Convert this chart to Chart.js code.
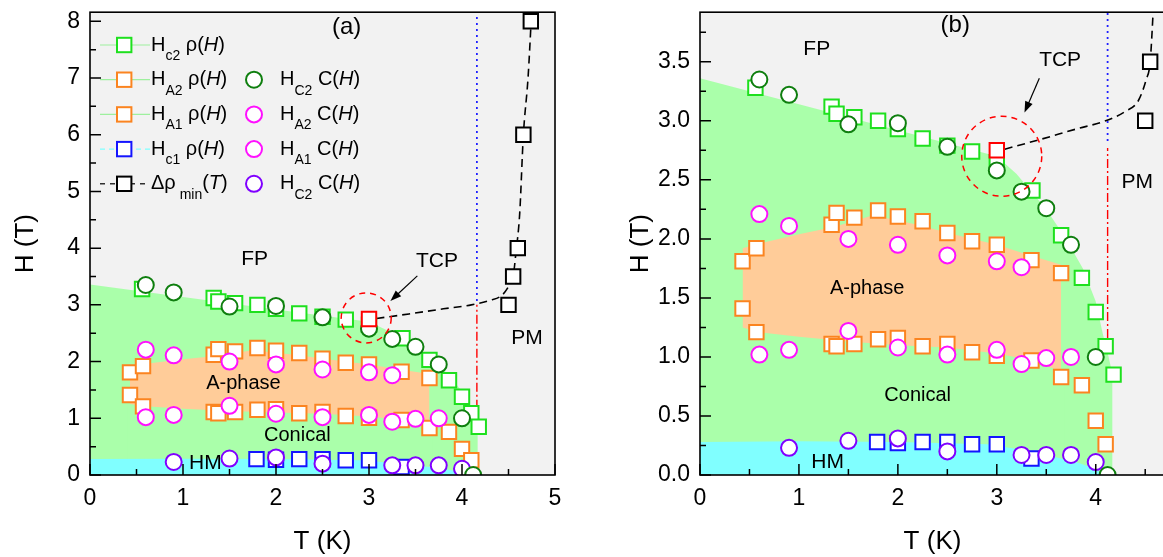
<!DOCTYPE html>
<html>
<head>
<meta charset="utf-8">
<script src="https://cdn.jsdelivr.net/npm/chart.js@4.4.1/dist/chart.umd.min.js"></script>
<style>
  html, body { margin: 0; padding: 0; background: #fff; overflow: hidden; width: 1163px; height: 557px; }
  canvas { position: absolute; top: 0; }
  #panelA { left: 0; }
  #panelB { left: 610px; }
</style>
</head>
<body>
<canvas id="panelA" width="580" height="557"></canvas>
<canvas id="panelB" width="570" height="557"></canvas>
<script>
// ---- measured phase boundaries (T in K, H in T) ----
const T_hc2_rho = [0.56, 1.33, 1.38, 1.56, 1.80, 2.00, 2.25, 2.50, 2.75, 3.00, 3.36, 3.65, 3.86, 4.00, 4.10, 4.18];
const H_hc2_rho = [3.28, 3.12, 3.06, 3.03, 3.00, 2.93, 2.85, 2.79, 2.74, 2.65, 2.41, 2.03, 1.67, 1.38, 1.09, 0.85];

const T_hA2_rho = [0.43, 0.57, 1.33, 1.38, 1.56, 1.80, 2.00, 2.25, 2.50, 2.75, 3.00, 3.35, 3.65];
const H_hA2_rho = [1.81, 1.92, 2.12, 2.22, 2.18, 2.24, 2.19, 2.15, 2.05, 1.98, 1.95, 1.82, 1.71];

const T_hA1_rho = [0.43, 0.57, 1.33, 1.38, 1.56, 1.80, 2.00, 2.25, 2.50, 2.75, 3.00, 3.35, 3.65, 3.86, 4.00, 4.10];
const H_hA1_rho = [1.41, 1.21, 1.11, 1.09, 1.11, 1.15, 1.16, 1.09, 1.11, 1.04, 1.01, 0.97, 0.83, 0.76, 0.46, 0.26];

const T_hc1_rho = [1.79, 2.00, 2.25, 2.50, 2.75, 3.00, 3.35];
const H_hc1_rho = [0.28, 0.27, 0.28, 0.28, 0.26, 0.26, 0.14];

const T_drho_min = [4.50, 4.55, 4.60, 4.66, 4.74];
const H_drho_min = [3.00, 3.50, 4.00, 6.00, 8.00];

const T_tcp = [3.00];
const H_tcp = [2.75];

const T_hC2_C = [0.60, 0.90, 1.50, 2.00, 2.50, 3.00, 3.25, 3.50, 3.75, 4.00, 4.12];
const H_hC2_C = [3.35, 3.22, 2.97, 2.98, 2.78, 2.58, 2.40, 2.26, 1.95, 1.00, 0.00];

const T_hA2_C = [0.60, 0.90, 1.50, 2.00, 2.50, 3.00, 3.25];
const H_hA2_C = [2.21, 2.11, 2.00, 1.95, 1.86, 1.81, 1.76];

const T_hA1_C = [0.60, 0.90, 1.50, 2.00, 2.50, 3.00, 3.25, 3.50, 3.75];
const H_hA1_C = [1.02, 1.06, 1.22, 1.08, 1.02, 1.06, 0.94, 0.99, 1.00];

const T_hc1_C = [0.90, 1.50, 2.00, 2.50, 3.25, 3.50, 3.75, 4.00];
const H_hc1_C = [0.23, 0.29, 0.31, 0.20, 0.17, 0.17, 0.17, 0.11];

// guide curve from the tricritical point to the resistivity minima
const T_guide = [3.08, 3.43, 3.80, 4.10, 4.30, 4.43, 4.51, 4.55, 4.58, 4.62, 4.66, 4.71, 4.75];
const H_guide = [2.76, 2.84, 2.93, 3.00, 3.08, 3.17, 3.35, 3.50, 3.92, 4.60, 6.00, 7.00, 8.20];

// ---- phase regions ----
const T_region_conical = [0, 1.0, 2.0, 3.0, 3.2, 3.5, 3.7, 3.87, 4.0, 4.07, 4.13, 4.17, 4.17];
const H_region_conical = [3.36, 3.14, 2.92, 2.70, 2.55, 2.25, 2.00, 1.75, 1.47, 1.20, 1.00, 0.85, 0];

const T_region_Atop = [0.43, 0.43, 0.60, 1.00, 1.35, 1.75, 2.20, 2.60, 3.00, 3.30, 3.65, 3.65];
const H_region_Atop = [0.00, 1.92, 1.96, 2.04, 2.10, 2.20, 2.12, 2.03, 1.95, 1.87, 1.78, 0.00];

const T_region_Abottom = [0.40, 0.40, 0.43, 0.60, 1.00, 1.50, 2.00, 2.50, 3.00, 3.30, 3.65, 3.68, 3.68];
const H_region_Abottom = [0.00, 1.25, 1.25, 1.21, 1.17, 1.13, 1.10, 1.08, 1.03, 0.98, 0.88, 0.87, 0.00];

const T_region_HM = [0, 1.0, 2.0, 2.9, 3.2, 3.5, 3.8, 4.0, 4.08];
const H_region_HM = [0.28, 0.285, 0.28, 0.26, 0.22, 0.17, 0.11, 0.05, 0];

// ---- axis ticks ----
const xTicksA = [0, 1, 2, 3, 4, 5];
const xMinorA = [0.5, 1.5, 2.5, 3.5, 4.5];
const yTicksA = [0, 1, 2, 3, 4, 5, 6, 7, 8];
const yMinorA = [0.5, 1.5, 2.5, 3.5, 4.5, 5.5, 6.5, 7.5];
const xTicksB = [0, 1, 2, 3, 4];
const xMinorB = [0.5, 1.5, 2.5, 3.5, 4.5];
const yTicksB = [0, 0.5, 1.0, 1.5, 2.0, 2.5, 3.0, 3.5];
const yMinorB = [0.25, 0.75, 1.25, 1.75, 2.25, 2.75, 3.25, 3.75];

const FAMILY = '"Liberation Sans", Arial, Helvetica, sans-serif';
Chart.defaults.font.family = FAMILY;
Chart.defaults.color = '#000';

const COL = {
  bg: '#f2f2f2', conical: '#aaffaa', aphase: '#ffcc99', hm: '#80ffff',
  hc2: '#1ee01e', hA: '#fb8420', hc1: '#1414ff', black: '#000000', red: '#ff0000',
  cC2: '#0f7f0f', cA: '#ff10ff', cC1: '#8000ff'
};

function pts(T, H) { return T.map((t, i) => ({ x: t, y: H[i] })); }

function regionSet(T, H, color, order) {
  return { data: pts(T, H), showLine: true, fill: 'origin', backgroundColor: color,
           borderColor: 'rgba(0,0,0,0)', borderWidth: 0, pointRadius: 0, order };
}
function lineSet(T, H, color, dash, width, order, smooth) {
  return { data: pts(T, H), showLine: true, fill: false, borderColor: color, borderWidth: width,
           borderDash: dash, pointRadius: 0, order,
           cubicInterpolationMode: smooth ? 'monotone' : 'default' };
}
function markSet(T, H, color, style, order) {
  return { data: pts(T, H), showLine: false, pointStyle: style,
           pointRadius: style === 'rect' ? 10.2 : 8, pointBorderWidth: 2,
           pointBackgroundColor: '#ffffff', pointBorderColor: color, order };
}

function drawRuns(ctx, x, y, runs, base) {
  let cx = x;
  for (const [t, kind] of runs) {
    const sub = kind === 'sub';
    const size = sub ? Math.round(base * 0.72) : base;
    ctx.font = (kind === 'it' ? 'italic ' : '') + size + 'px ' + FAMILY;
    ctx.fillText(t, cx, y + (sub ? base * 0.55 : 0));
    cx += ctx.measureText(t).width;
  }
}

const legendSquares = [
  { color: COL.hc2, line: '#9ef09e', dash: [], runs: [['H'], ['c2', 'sub'], [' \u03c1('], ['H', 'it'], [')']] },
  { color: COL.hA, line: '#9ef09e', dash: [], runs: [['H'], ['A2', 'sub'], [' \u03c1('], ['H', 'it'], [')']] },
  { color: COL.hA, line: '#9ef09e', dash: [], runs: [['H'], ['A1', 'sub'], [' \u03c1('], ['H', 'it'], [')']] },
  { color: COL.hc1, line: '#80ffff', dash: [5, 4], runs: [['H'], ['c1', 'sub'], [' \u03c1('], ['H', 'it'], [')']] },
  { color: COL.black, line: '#000000', dash: [5, 5], runs: [['\u0394\u03c1'], [' min', 'sub'], ['('], ['T', 'it'], [')']] }
];
const legendCircles = [
  null,
  { color: COL.cC2, runs: [['H'], ['C2', 'sub'], [' C('], ['H', 'it'], [')']] },
  { color: COL.cA, runs: [['H'], ['A2', 'sub'], [' C('], ['H', 'it'], [')']] },
  { color: COL.cA, runs: [['H'], ['A1', 'sub'], [' C('], ['H', 'it'], [')']] },
  { color: COL.cC1, runs: [['H'], ['C2', 'sub'], [' C('], ['H', 'it'], [')']] }
];

function drawLegend(ctx) {
  ctx.save();
  ctx.textBaseline = 'middle';
  ctx.textAlign = 'left';
  ctx.fillStyle = '#000';
  legendSquares.forEach((r, i) => {
    const y = 45 + i * 34.7;
    ctx.strokeStyle = r.line; ctx.lineWidth = 1.2; ctx.setLineDash(r.dash);
    ctx.beginPath(); ctx.moveTo(100, y); ctx.lineTo(150, y); ctx.stroke();
    ctx.setLineDash([]);
    ctx.fillStyle = '#fff'; ctx.strokeStyle = r.color; ctx.lineWidth = 2;
    ctx.fillRect(117, y - 7.2, 14.4, 14.4); ctx.strokeRect(117, y - 7.2, 14.4, 14.4);
    ctx.fillStyle = '#000';
    drawRuns(ctx, 151, y, r.runs, 20);
  });
  legendCircles.forEach((r, i) => {
    if (!r) return;
    const y = 45 + i * 34.7;
    ctx.fillStyle = '#fff'; ctx.strokeStyle = r.color; ctx.lineWidth = 2;
    ctx.beginPath(); ctx.arc(254, y, 8, 0, Math.PI * 2); ctx.fill(); ctx.stroke();
    ctx.fillStyle = '#000';
    drawRuns(ctx, 280, y, r.runs, 20);
  });
  ctx.restore();
}

const decorPlugin = {
  id: 'decor',
  beforeDraw(chart) {
    const { ctx, chartArea: a } = chart;
    ctx.save(); ctx.fillStyle = COL.bg;
    ctx.fillRect(a.left, a.top, a.right - a.left, a.bottom - a.top);
    ctx.restore();
  },
  afterDatasetsDraw(chart) {
    const cfg = chart.options.plugins.decor;
    const { ctx, scales: { x, y } } = chart;
    ctx.save();
    // dashed circle around the tricritical point
    ctx.strokeStyle = COL.red; ctx.lineWidth = 1.5; ctx.setLineDash([6, 5]);
    ctx.beginPath();
    ctx.arc(x.getPixelForValue(cfg.circle.T), y.getPixelForValue(cfg.circle.H), cfg.circle.r, 0, Math.PI * 2);
    ctx.stroke();
    ctx.setLineDash([]);
    // arrow towards the tricritical point
    const x1 = x.getPixelForValue(cfg.arrow[0]), y1 = y.getPixelForValue(cfg.arrow[1]);
    const x2 = x.getPixelForValue(cfg.arrow[2]), y2 = y.getPixelForValue(cfg.arrow[3]);
    const ang = Math.atan2(y2 - y1, x2 - x1);
    ctx.strokeStyle = '#000'; ctx.fillStyle = '#000'; ctx.lineWidth = 1.2;
    ctx.beginPath(); ctx.moveTo(x1, y1);
    ctx.lineTo(x2 - 8 * Math.cos(ang), y2 - 8 * Math.sin(ang)); ctx.stroke();
    ctx.beginPath(); ctx.moveTo(x2, y2);
    ctx.lineTo(x2 - 11 * Math.cos(ang) + 4 * Math.sin(ang), y2 - 11 * Math.sin(ang) - 4 * Math.cos(ang));
    ctx.lineTo(x2 - 11 * Math.cos(ang) - 4 * Math.sin(ang), y2 - 11 * Math.sin(ang) + 4 * Math.cos(ang));
    ctx.closePath(); ctx.fill();
    // region and panel labels
    ctx.textAlign = 'center'; ctx.textBaseline = 'middle'; ctx.fillStyle = '#000';
    for (const l of cfg.labels) {
      ctx.font = l.size + 'px ' + FAMILY;
      ctx.fillText(l.text, x.getPixelForValue(l.T), y.getPixelForValue(l.H));
    }
    ctx.restore();
  },
  afterDraw(chart) {
    const cfg = chart.options.plugins.decor;
    const { ctx, chartArea: a, scales: { x, y } } = chart;
    ctx.save();
    ctx.strokeStyle = '#000'; ctx.lineWidth = 1.5;
    ctx.beginPath();
    const tick = (vals, len, horiz) => {
      for (const v of vals) {
        if (horiz) { const px = x.getPixelForValue(v); ctx.moveTo(px, a.bottom); ctx.lineTo(px, a.bottom - len); }
        else { const py = y.getPixelForValue(v); ctx.moveTo(a.left, py); ctx.lineTo(a.left + len, py); }
      }
    };
    tick(cfg.xTicks, 11, true); tick(cfg.xMinor, 6, true);
    tick(cfg.yTicks, 11, false); tick(cfg.yMinor, 6, false);
    ctx.stroke();
    ctx.lineWidth = 1.6;
    ctx.strokeRect(a.left, a.top, a.right - a.left, a.bottom - a.top);
    ctx.restore();
    if (cfg.legend) drawLegend(ctx);
  }
};

function buildChart(canvasId, p) {
  const datasets = [
    regionSet(T_region_conical, H_region_conical, COL.conical, 100),
    regionSet(T_region_Atop, H_region_Atop, COL.aphase, 99),
    regionSet(T_region_Abottom, H_region_Abottom, COL.conical, 98),
    regionSet(T_region_HM, H_region_HM, COL.hm, 97),
    lineSet([p.vline.T, p.vline.T], [p.vline.blue[0], p.vline.blue[1]], '#2020ff', [2, 4], 1.8, 60, false),
    lineSet([p.vline.T, p.vline.T], [p.vline.red[0], p.vline.red[1]], COL.red, [9, 3, 2, 3], 1.4, 59, false),
    lineSet(T_guide, H_guide, '#000', [8, 5], 1.6, 58, true),
    markSet(T_hc1_rho, H_hc1_rho, COL.hc1, 'rect', 30),
    markSet(T_hA1_rho, H_hA1_rho, COL.hA, 'rect', 29),
    markSet(T_hA2_rho, H_hA2_rho, COL.hA, 'rect', 28),
    markSet(T_hc2_rho, H_hc2_rho, COL.hc2, 'rect', 27),
    markSet(T_drho_min, H_drho_min, COL.black, 'rect', 26),
    markSet(T_hc1_C, H_hc1_C, COL.cC1, 'circle', 15),
    markSet(T_hA1_C, H_hA1_C, COL.cA, 'circle', 14),
    markSet(T_hA2_C, H_hA2_C, COL.cA, 'circle', 13),
    markSet(T_hC2_C, H_hC2_C, COL.cC2, 'circle', 12),
    markSet(T_tcp, H_tcp, COL.red, 'rect', 5)
  ];
  return new Chart(document.getElementById(canvasId), {
    type: 'scatter',
    data: { datasets },
    options: {
      responsive: false, animation: false, events: [],
      layout: { padding: { top: p.padTop, right: p.padRight, left: 0, bottom: 0 } },
      plugins: {
        legend: { display: false }, tooltip: { enabled: false },
        decor: { xTicks: p.xTicks, xMinor: p.xMinor, yTicks: p.yTicks, yMinor: p.yMinor,
                 labels: p.labels, arrow: p.arrow, circle: p.circle, legend: p.legend }
      },
      scales: {
        x: {
          type: 'linear', min: 0, max: p.xMax,
          afterFit(s) { s.height = 82; s.paddingLeft = 0; s.paddingRight = 0; },
          afterBuildTicks(s) { s.ticks = p.xTicks.map(v => ({ value: v })); },
          grid: { display: false, drawTicks: false }, border: { display: false },
          ticks: { font: { size: 23 }, color: '#000', padding: 10, maxRotation: 0, autoSkip: false,
                   callback: v => String(v) },
          title: { display: true, text: 'T (K)', font: { size: 26 }, color: '#000', padding: { top: 0, bottom: 0 } }
        },
        y: {
          type: 'linear', min: 0, max: p.yMax,
          afterFit(s) { s.width = 90; s.paddingTop = 0; s.paddingBottom = 0; },
          afterBuildTicks(s) { s.ticks = p.yTicks.map(v => ({ value: v })); },
          grid: { display: false, drawTicks: false }, border: { display: false },
          ticks: { font: { size: 23 }, color: '#000', padding: 10, autoSkip: false, callback: p.yFmt },
          title: { display: true, text: 'H (T)', font: { size: 26 }, color: '#000', padding: { top: p.yTitlePad, bottom: 0 } }
        }
      }
    },
    plugins: [decorPlugin]
  });
}

buildChart('panelA', {
  xMax: 5, yMax: 8.16, padTop: 10, padRight: 25, yTitlePad: 10,
  xTicks: xTicksA, xMinor: xMinorA, yTicks: yTicksA, yMinor: yMinorA,
  yFmt: v => String(v),
  vline: { T: 4.16, blue: [3.07, 8.16], red: [1.17, 3.0] },
  circle: { T: 2.97, H: 2.77, r: 25 },
  arrow: [3.52, 3.51, 3.23, 3.07],
  legend: true,
  labels: [
    { text: '(a)', T: 2.76, H: 7.89, size: 24 },
    { text: 'FP', T: 1.77, H: 3.81, size: 21 },
    { text: 'TCP', T: 3.73, H: 3.77, size: 21 },
    { text: 'PM', T: 4.70, H: 2.42, size: 21 },
    { text: 'A-phase', T: 1.65, H: 1.61, size: 20 },
    { text: 'Conical', T: 2.23, H: 0.70, size: 20 },
    { text: 'HM', T: 1.24, H: 0.21, size: 21 }
  ]
});

buildChart('panelB', {
  xMax: 4.7, yMax: 3.92, padTop: 9, padRight: 15, yTitlePad: 15,
  xTicks: xTicksB, xMinor: xMinorB, yTicks: yTicksB, yMinor: yMinorB,
  yFmt: v => v.toFixed(1),
  vline: { T: 4.12, blue: [2.83, 3.92], red: [1.16, 2.77] },
  circle: { T: 3.05, H: 2.70, r: 40 },
  arrow: [3.43, 3.36, 3.28, 3.07],
  legend: false,
  labels: [
    { text: '(b)', T: 2.58, H: 3.81, size: 24 },
    { text: 'FP', T: 1.18, H: 3.61, size: 21 },
    { text: 'TCP', T: 3.64, H: 3.51, size: 21 },
    { text: 'PM', T: 4.42, H: 2.48, size: 21 },
    { text: 'A-phase', T: 1.69, H: 1.58, size: 20 },
    { text: 'Conical', T: 2.20, H: 0.67, size: 20 },
    { text: 'HM', T: 1.29, H: 0.11, size: 21 }
  ]
});
</script>
</body>
</html>
